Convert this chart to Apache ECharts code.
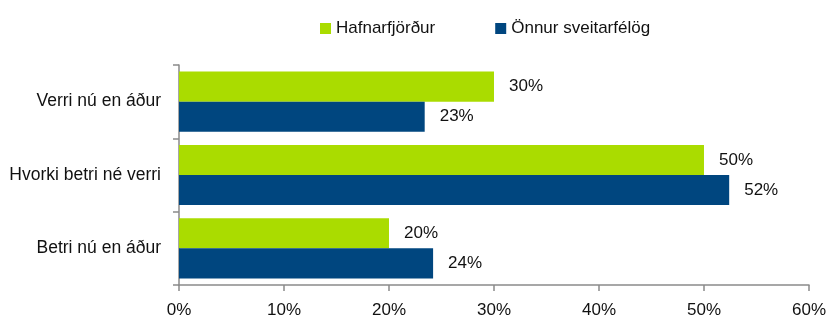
<!DOCTYPE html>
<html>
<head>
<meta charset="utf-8">
<script src="https://cdn.jsdelivr.net/npm/echarts@6/dist/echarts.min.js"></script>
<style>
  html, body { margin: 0; padding: 0; background: #fff; }
  #chart { width: 829px; height: 320px; }
</style>
</head>
<body>
<div id="chart"></div>
<script>
// Survey answers: change compared with before, by municipality group (%)
const categories = ['Verri nú en áður', 'Hvorki betri né verri', 'Betri nú en áður'];
const seriesNames = ['Hafnarfjörður', 'Önnur sveitarfélög'];
const hafnarfjordur = [30.0, 50.0, 20.0];
const onnur = [23.4, 52.4, 24.2];
const xTicks = [0, 10, 20, 30, 40, 50, 60];

const FONT = '"Liberation Sans", Arial, sans-serif';
const TEXT = '#111111';
const AXIS = '#8a8a8a';

const chart = echarts.init(document.getElementById('chart'), null, { renderer: 'canvas' });

const valueLabel = {
  show: true,
  position: 'right',
  distance: 15,
  color: TEXT,
  fontFamily: FONT,
  fontSize: 17,
  formatter: p => Math.round(p.value) + '%'
};

chart.setOption({
  animation: false,
  backgroundColor: '#ffffff',
  textStyle: { fontFamily: FONT },
  legend: {
    data: seriesNames,
    left: 315,
    top: 15,
    itemWidth: 11,
    itemHeight: 11,
    itemGap: 60,
    icon: 'rect',
    textStyle: { color: TEXT, fontSize: 17, fontFamily: FONT, padding: [0, 0, 0, 0] }
  },
  grid: { left: 179, right: 19, top: 65, bottom: 35, containLabel: false },
  xAxis: {
    type: 'value',
    min: xTicks[0],
    max: xTicks[xTicks.length - 1],
    interval: 10,
    axisLine: { show: true, lineStyle: { color: AXIS, width: 1.5 } },
    axisTick: { show: true, length: 6, lineStyle: { color: AXIS, width: 1.5 } },
    splitLine: { show: false },
    axisLabel: {
      color: TEXT,
      fontSize: 17,
      fontFamily: FONT,
      margin: 17,
      formatter: v => v + '%'
    }
  },
  yAxis: {
    type: 'category',
    data: categories,
    inverse: true,
    axisLine: { show: true, lineStyle: { color: AXIS, width: 1.5 } },
    axisTick: { show: true, length: 6, lineStyle: { color: AXIS, width: 1.5 } },
    axisLabel: { color: TEXT, fontSize: 17.5, fontFamily: FONT, margin: 18 }
  },
  series: [
    {
      name: seriesNames[0],
      type: 'bar',
      data: hafnarfjordur,
      barGap: '0%',
      barCategoryGap: '18%',
      itemStyle: { color: '#aadc00' },
      label: valueLabel
    },
    {
      name: seriesNames[1],
      type: 'bar',
      data: onnur,
      barGap: '0%',
      barCategoryGap: '18%',
      itemStyle: { color: '#00467f' },
      label: valueLabel
    }
  ]
});
</script>
</body>
</html>
